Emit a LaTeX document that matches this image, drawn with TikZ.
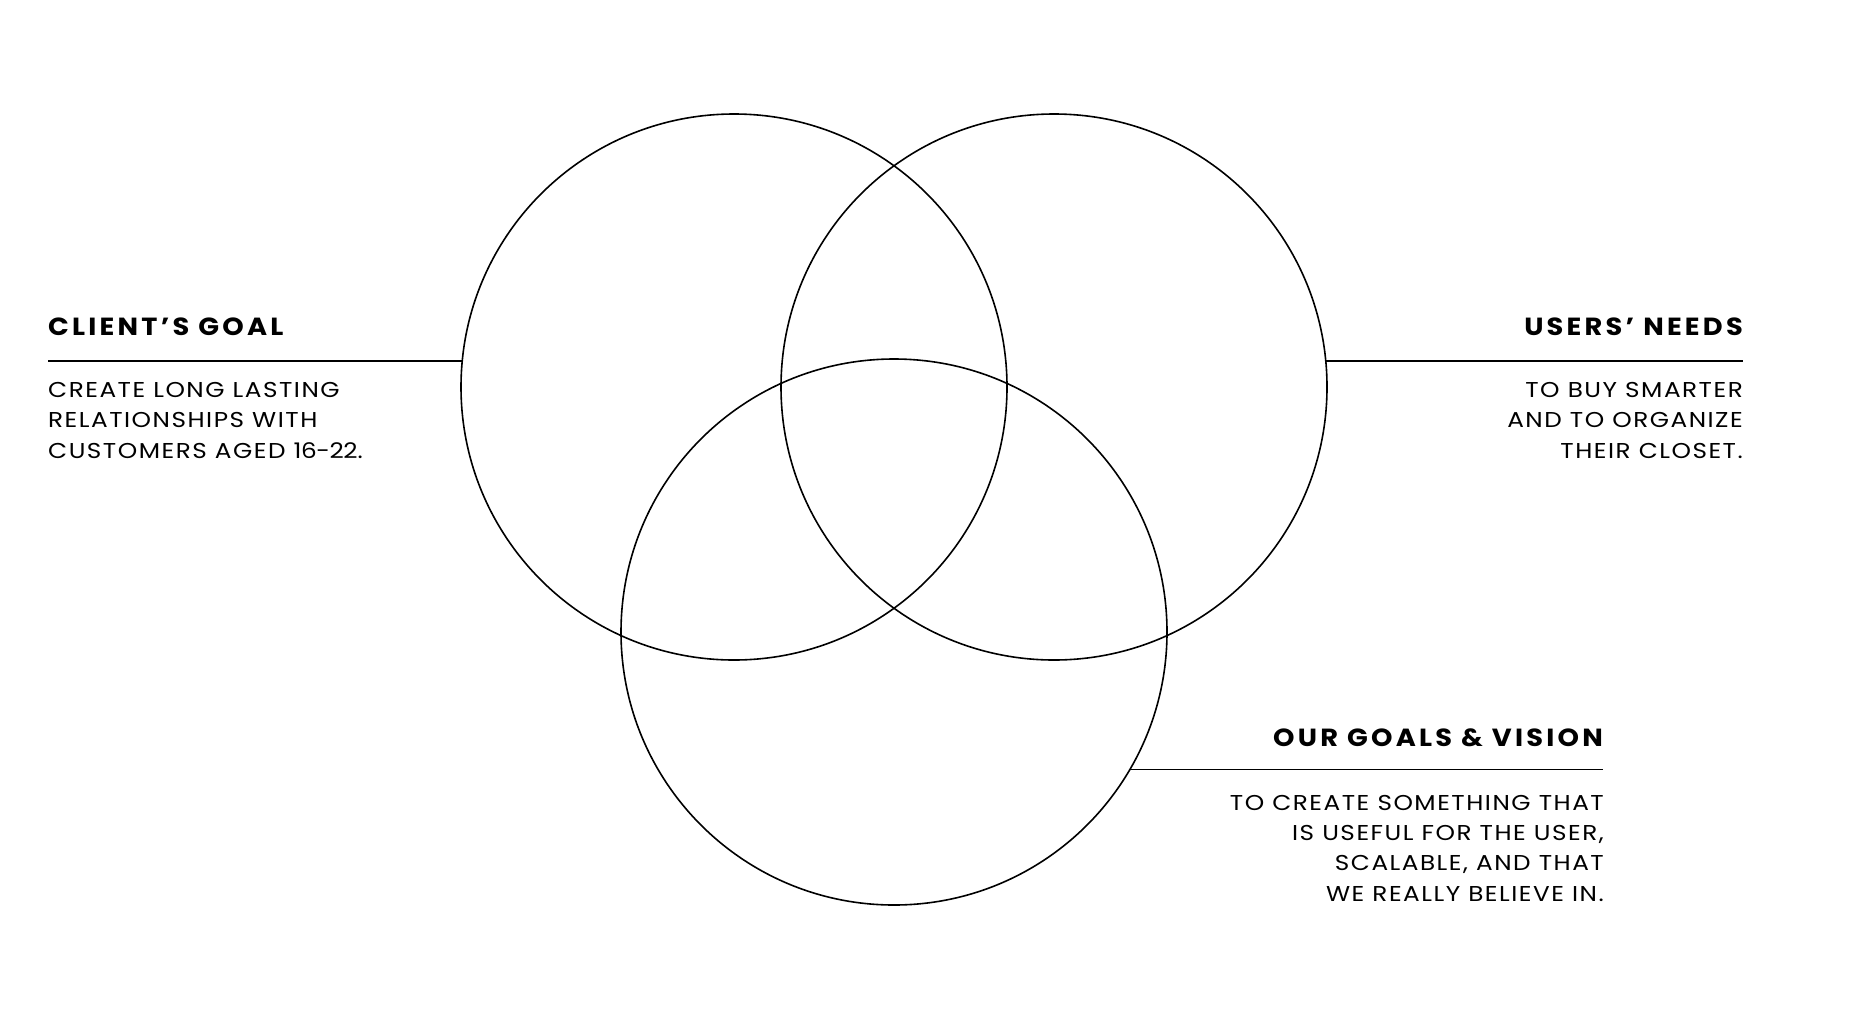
\documentclass[tikz,border=0pt]{standalone}
\usepackage{fontspec}
\usetikzlibrary{calc}
\setmainfont{Poppins}
\newfontfamily\bodyfont{Poppins}[LetterSpace=7,FakeStretch=1.15,Numbers=Proportional]
\newfontfamily\headfont{Poppins}[LetterSpace=13,FakeStretch=1.1]
\begin{document}
\begin{tikzpicture}[x=1pt,y=-1pt,
  ring/.style={circle,draw=black,line width=1.6pt,minimum size=546pt,inner sep=0pt,outer sep=0pt},
  rule/.style={draw=black,line width=1.6pt},
  head/.style={inner sep=0pt,font=\headfont\bfseries\fontsize{24.8}{30}\selectfont},
  body/.style={inner sep=0pt,font=\bodyfont\fontsize{21.5}{30.3}\selectfont}]
\useasboundingbox (0,0) rectangle (1854,1018);
\fill[white] (0,0) rectangle (1854,1018);
% circles
\node[ring] (L) at (734,387) {};
\node[ring] (R) at (1054,387) {};
\node[ring] (B) at (894,632) {};
% left block
\node[head,anchor=base west] (lh) at (48,335.7) {CLIENT’S GOAL};
\coordinate (lend) at (48,360.7);
\draw[rule] (lend) -- ($(L.center)+(-271.7,-26.3)$);
\node[body,anchor=north west,align=left] (lb) at (48,382.3) {CREATE LONG LASTING\\RELATIONSHIPS WITH\\CUSTOMERS AGED {\addfontfeatures{LetterSpace=-2}16-22}.};
% right block
\node[head,anchor=base east] (rh) at (1743,335.7) {USERS’ NEEDS};
\coordinate (rend) at (1743,360.7);
\draw[rule] ($(R.center)+(271.7,-26.3)$) -- (rend);
\node[body,anchor=north east,align=right] (rb) at (1743,382.3) {TO BUY SMARTER\\AND TO ORGANIZE\\THEIR CLOSET.};
% bottom block
\node[head,anchor=base east] (bh) at (1603,746) {OUR GOALS \& VISION};
\coordinate (bend) at (1603,769.3);
\draw[rule] ($(B.center)+(236.2,137.3)$) -- (bend);
\node[body,anchor=north east,align=right] (bb) at (1604,795) {TO CREATE SOMETHING THAT\hspace{6pt}\\IS USEFUL FOR THE USER,\\SCALABLE, AND THAT\\WE REALLY BELIEVE IN.};
\end{tikzpicture}
\end{document}
